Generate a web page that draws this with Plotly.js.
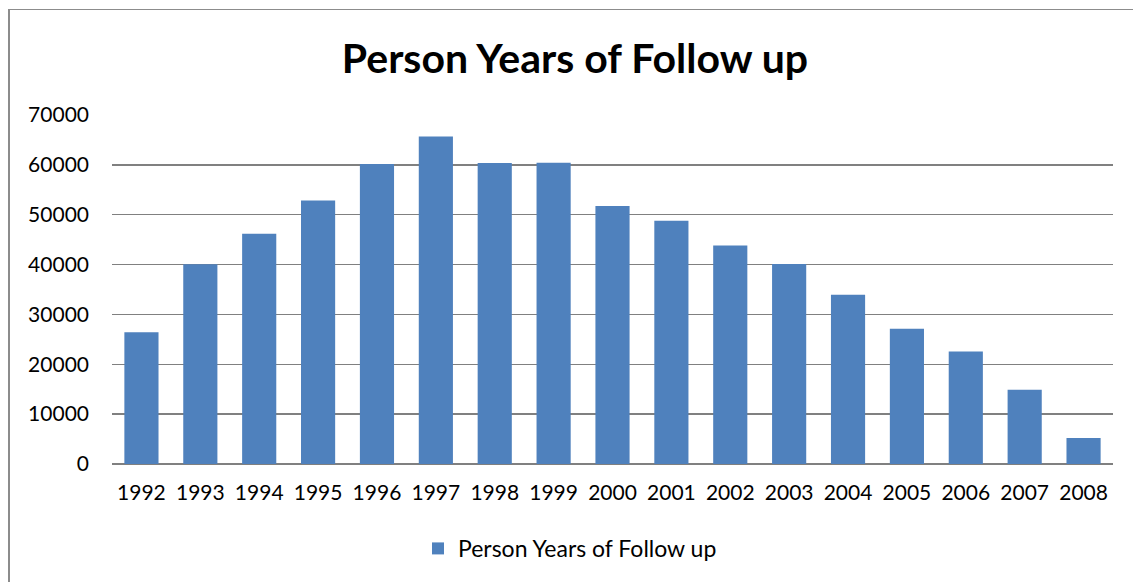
<!DOCTYPE html>
<html>
<head>
<meta charset="utf-8">
<script src="https://cdn.plot.ly/plotly-3.0.1.min.js"></script>
<style>
  html, body { margin: 0; padding: 0; background: #fff; }
  #chart { position: absolute; left: 0; top: 0; width: 1133px; height: 582px; }
  #frame { position: absolute; left: 8px; top: 9px; width: 1140px; height: 600px;
           border-left: 2px solid #8c8c8c; border-top: 1px solid #8c8c8c; pointer-events: none; }
</style>
</head>
<body>
<div id="chart"></div>
<div id="frame"></div>
<script>
const years = ["1992","1993","1994","1995","1996","1997","1998","1999","2000","2001","2002","2003","2004","2005","2006","2007","2008"];
const personYears = [26430, 40060, 46190, 52830, 60160, 65670, 60360, 60420, 51770, 48780, 43850, 40120, 33930, 27150, 22560, 14910, 5190];
const seriesName = "Person Years of Follow up";
const yTicks = [0, 10000, 20000, 30000, 40000, 50000, 60000, 70000];

const font = "Lato, 'Open Sans', sans-serif";

Plotly.newPlot("chart", [{
  type: "bar",
  x: years,
  y: personYears,
  name: seriesName,
  marker: { color: "#4F81BD" },
  showlegend: true
}], {
  width: 1133, height: 582,
  margin: { l: 112, r: 20, t: 115, b: 116 },
  paper_bgcolor: "#fff", plot_bgcolor: "#fff",
  bargap: 0.42,
  title: { text: "<b>Person Years of Follow up</b>", font: { family: font, size: 41, color: "#000" },
           x: 0.4625, xanchor: "center", y: 0.9, yanchor: "middle", xref: "paper" },
  xaxis: { type: "category", tickfont: { family: font, size: 21, color: "#000" },
           showgrid: false, showline: false, ticks: "", ticklabelstandoff: 14, zeroline: false },
  yaxis: { range: [0, 70000], tickvals: yTicks, ticktext: yTicks.map(String),
           tickfont: { family: font, size: 21, color: "#000" },
           showgrid: true, gridcolor: "#808080", gridwidth: 1.3,
           zeroline: true, zerolinecolor: "#808080", zerolinewidth: 1.3,
           showline: false, ticks: "", ticklabelstandoff: 22 },
  showlegend: true,
  legend: { orientation: "h", x: 0.3057, xanchor: "left", y: -0.242, yanchor: "middle",
            font: { family: font, size: 23, color: "#000" } },
  hovermode: false
}, { displayModeBar: false, staticPlot: true });
</script>
</body>
</html>
